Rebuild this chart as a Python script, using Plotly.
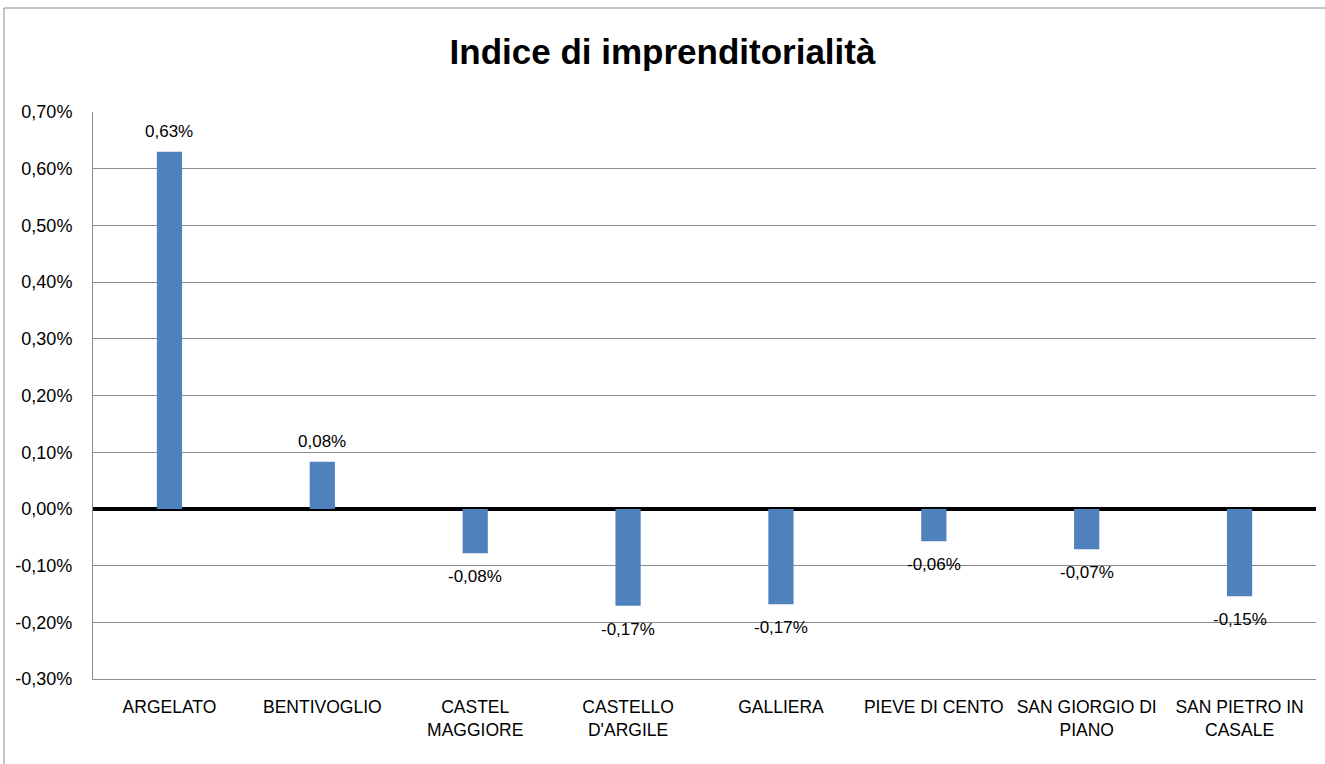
import plotly.graph_objects as go

categories = ["ARGELATO", "BENTIVOGLIO", "CASTEL<br>MAGGIORE", "CASTELLO<br>D'ARGILE",
              "GALLIERA", "PIEVE DI CENTO", "SAN GIORGIO DI<br>PIANO", "SAN PIETRO IN<br>CASALE"]
values = [0.00630, 0.00083, -0.00078, -0.00171, -0.00168, -0.00057, -0.00071, -0.00154]
tick_vals = [-0.003, -0.002, -0.001, 0.0, 0.001, 0.002, 0.003, 0.004, 0.005, 0.006, 0.007]
tick_text = ["-0,30%", "-0,20%", "-0,10%", "0,00%", "0,10%", "0,20%", "0,30%",
             "0,40%", "0,50%", "0,60%", "0,70%"]


def fmt(v):
    return ("%.2f%%" % (v * 100)).replace(".", ",")


FONT = "Liberation Sans, Arial, sans-serif"

fig = go.Figure(go.Bar(
    x=categories, y=values,
    marker=dict(color="#4F81BD", line=dict(width=0)),
    width=0.165, hoverinfo="skip",
))

for c, v in zip(categories, values):
    fig.add_annotation(x=c, y=v, text=fmt(v), showarrow=False,
                       yanchor="bottom" if v >= 0 else "top",
                       yshift=9 if v >= 0 else -12,
                       font=dict(family=FONT, size=17, color="#000000"))

W, H = 1325, 764
L, R, T, B = 93, 9, 112, 85
pw, ph = W - L - R, H - T - B

fig.update_layout(
    width=W, height=H,
    paper_bgcolor="white", plot_bgcolor="white",
    margin=dict(l=L, r=R, t=T, b=B),
    title=dict(text="<b>Indice di imprenditorialità</b>", x=0.5, xanchor="center",
               y=1 - 52 / H, yanchor="middle",
               font=dict(family=FONT, size=35, color="#000000")),
    showlegend=False,
    font=dict(family=FONT, size=18, color="#000000"),
)
fig.update_yaxes(range=[-0.003, 0.007], tickvals=tick_vals, ticktext=tick_text,
                 showgrid=True, gridcolor="#8c8c8c", gridwidth=1,
                 zeroline=True, zerolinecolor="#000000", zerolinewidth=3.5,
                 showline=True, linecolor="#8c8c8c", linewidth=1,
                 ticks="", ticklabelstandoff=16,
                 tickfont=dict(family=FONT, size=18, color="#000000"))
fig.update_xaxes(showgrid=False, showline=True, linecolor="#8c8c8c", linewidth=1,
                 ticks="", ticklabelstandoff=12,
                 tickfont=dict(family=FONT, size=17.5, color="#000000"), tickangle=0)

# outer chart frame (left and top edges)
x_left = (4 - L) / pw
y_top = 1 + (T - 8) / ph
fig.add_shape(type="line", xref="paper", yref="paper",
              x0=x_left, x1=1.2, y0=y_top, y1=y_top,
              line=dict(color="#8c8c8c", width=1))
fig.add_shape(type="line", xref="paper", yref="paper",
              x0=x_left, x1=x_left, y0=y_top, y1=-0.3,
              line=dict(color="#8c8c8c", width=1))

fig.write_html("out.html", config={"displayModeBar": False},
               post_script="document.body.style.margin='0';")
